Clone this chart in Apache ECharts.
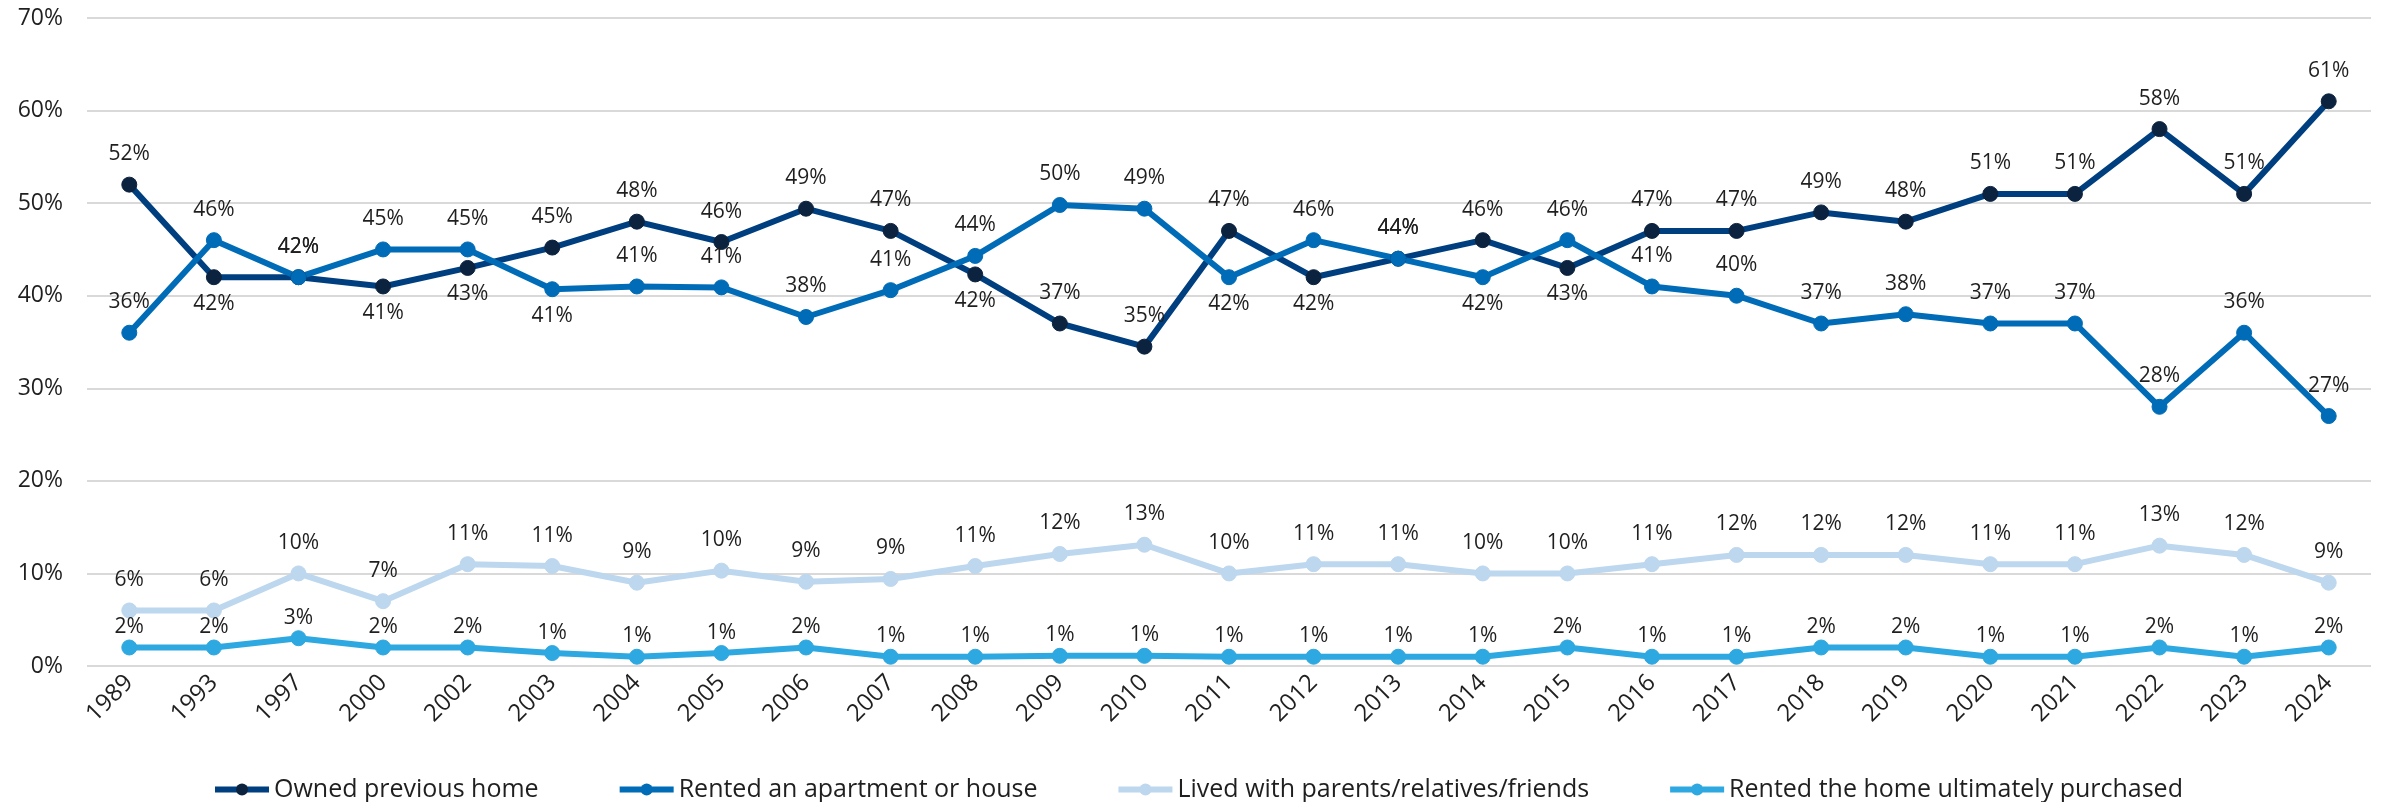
<!DOCTYPE html>
<html>
<head>
<meta charset="utf-8">
<script src="https://cdn.jsdelivr.net/npm/echarts@6/dist/echarts.min.js"></script>
<style>
  html, body { margin: 0; padding: 0; background: #fff; }
  #chart { width: 2402px; height: 802px; }
</style>
</head>
<body>
<div id="chart"></div>
<script>
const years = ['1989','1993','1997','2000','2002','2003','2004','2005','2006','2007','2008','2009','2010','2011','2012','2013','2014','2015','2016','2017','2018','2019','2020','2021','2022','2023','2024']

const ownedPrev = [52, 42, 42, 41, 43, 45.2, 48, 45.8, 49.4, 47, 42.3, 37, 34.5, 47, 42, 44, 46, 43, 47, 47, 49, 48, 51, 51, 58, 51, 61]
const rentedApt = [36, 46, 42, 45, 45, 40.7, 41, 40.9, 37.7, 40.6, 44.3, 49.8, 49.4, 42, 46, 44, 42, 46, 41, 40, 37, 38, 37, 37, 28, 36, 27]
const livedFamily = [6, 6, 10, 7, 11, 10.8, 9, 10.3, 9.1, 9.4, 10.8, 12.1, 13.1, 10, 11, 11, 10, 10, 11, 12, 12, 12, 11, 11, 13, 12, 9]
const rentedHome = [2, 2, 3, 2, 2, 1.4, 1, 1.4, 2, 1, 1, 1.1, 1.1, 1, 1, 1, 1, 2, 1, 1, 2, 2, 1, 1, 2, 1, 2]

// which points carry their label underneath
const ownedBelow = ['1993', '2000', '2002', '2008', '2012', '2015']
const rentedBelow = ['2003', '2011', '2014']

const yTicks = [0, 10, 20, 30, 40, 50, 60, 70]

const font = 'Open Sans'
const textColor = '#1f1f1f'

const withLabels = (vals, below) => vals.map((v, i) => {
  if (below.indexOf(years[i]) >= 0) {
    return { value: v, label: { position: 'bottom', distance: 8 } }
  }
  return v
})

const mkSeries = (name, data, color, markerColor, dist) => ({
  name: name,
  type: 'line',
  data: data,
  symbol: 'circle',
  symbolSize: 15,
  lineStyle: { width: 6, color: color },
  itemStyle: { color: markerColor, borderColor: markerColor },
  label: {
    show: true,
    position: 'top',
    distance: dist,
    color: textColor,
    fontFamily: font,
    fontSize: 21,
    formatter: p => Math.round(p.value) + '%'
  },
  emphasis: { disabled: true },
  animation: false
})

const chart = echarts.init(document.getElementById('chart'))
chart.setOption({
  backgroundColor: '#fff',
  grid: { left: 87, right: 31, top: 18, bottom: 136 },
  legend: {
    top: 772,
    left: 207,
    itemWidth: 54,
    itemHeight: 15,
    itemGap: 78,
    lineStyle: { width: 6 },
    textStyle: { fontFamily: font, fontSize: 25, color: textColor },
    data: ['Owned previous home', 'Rented an apartment or house', 'Lived with parents/relatives/friends', 'Rented the home ultimately purchased']
  },
  xAxis: {
    type: 'category',
    data: years,
    boundaryGap: true,
    axisLine: { show: false },
    axisTick: { show: false },
    axisLabel: { rotate: 45, fontFamily: font, fontSize: 24, color: textColor, margin: 13 }
  },
  yAxis: {
    type: 'value',
    min: yTicks[0],
    max: yTicks[yTicks.length - 1],
    interval: 10,
    axisLabel: { formatter: '{value}%', fontFamily: font, fontSize: 23, color: textColor, margin: 24 },
    axisLine: { show: false },
    axisTick: { show: false },
    splitLine: { lineStyle: { color: '#d9d9d9', width: 2 } }
  },
  series: [
    mkSeries('Owned previous home', withLabels(ownedPrev, ownedBelow), '#003f7f', '#0c2340', 12),
    mkSeries('Rented an apartment or house', withLabels(rentedApt, rentedBelow), '#006cb7', '#006cb7', 12),
    mkSeries('Lived with parents/relatives/friends', livedFamily, '#bdd7ee', '#bdd7ee', 12),
    mkSeries('Rented the home ultimately purchased', rentedHome, '#2ea8e0', '#2ea8e0', 2)
  ]
})
</script>
</body>
</html>
